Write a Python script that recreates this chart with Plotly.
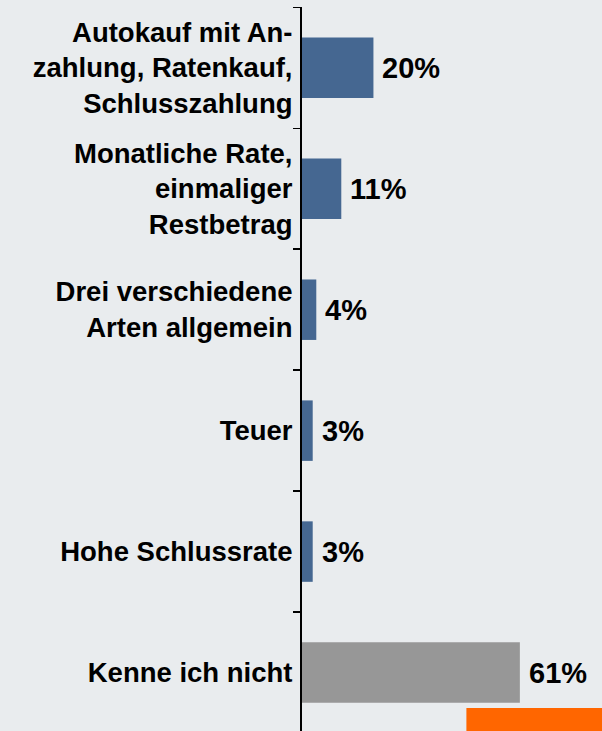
import plotly.graph_objects as go

categories = [
    "Autokauf mit An-<br>zahlung, Ratenkauf,<br>Schlusszahlung",
    "Monatliche Rate,<br>einmaliger<br>Restbetrag",
    "Drei verschiedene<br>Arten allgemein",
    "Teuer",
    "Hohe Schlussrate",
    "Kenne ich nicht",
]
values = [20, 11, 4, 3, 3, 61]
value_labels = ["20%", "11%", "4%", "3%", "3%", "61%"]
bar_colors = ["#456791", "#456791", "#456791", "#456791", "#456791", "#979797"]

FONT = "Liberation Sans"
BG = "#e9ecee"

fig = go.Figure()
fig.add_trace(go.Bar(
    y=categories,
    x=values,
    orientation="h",
    marker=dict(color=bar_colors, line=dict(width=0)),
    width=0.5,
    hoverinfo="skip",
))

for cat, v, lab in zip(categories, values, value_labels):
    fig.add_annotation(
        x=v, y=cat, text="<b>%s</b>" % lab, showarrow=False,
        xanchor="left", yanchor="middle", xshift=7,
        font=dict(family=FONT, size=29, color="#000000"),
    )

# orange decoration at bottom right
fig.add_shape(
    type="rect", xref="paper", yref="paper",
    x0=0.548, x1=1.0, y0=0.0, y1=0.0318,
    fillcolor="#ff6600", line=dict(width=0), layer="above",
)

fig.update_layout(
    width=602, height=731,
    margin=dict(l=302, r=0, t=7, b=0),
    paper_bgcolor=BG, plot_bgcolor=BG,
    showlegend=False,
    bargap=0.5,
    xaxis=dict(
        range=[0, 84.0], visible=False, showgrid=False, zeroline=False,
    ),
    yaxis=dict(
        type="category",
        categoryorder="array", categoryarray=categories,
        range=[5.4835, -0.503],
        showgrid=False, zeroline=False,
        showline=True, linecolor="#000000", linewidth=2,
        ticks="outside", tickson="boundaries", ticklen=7, tickwidth=1.5, tickcolor="#000000",
        tickfont=dict(family=FONT, size=27.5, color="#000000"),
        ticklabelstandoff=2,
    ),
)

fig.update_yaxes(tickprefix="<b>", ticksuffix="</b>")

fig.write_html(
    "out.html",
    config={"displayModeBar": False, "staticPlot": True},
    post_script="document.body.style.margin='0';document.body.style.background='%s';" % BG,
)
